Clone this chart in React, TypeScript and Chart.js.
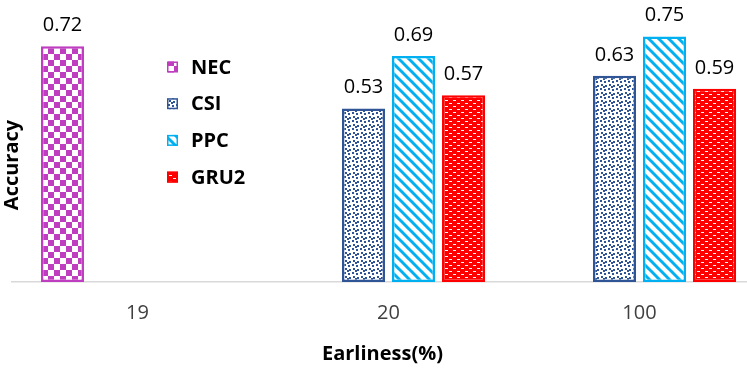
import React, { useEffect, useRef } from 'react';
import { Chart, registerables } from 'chart.js';

Chart.register(...registerables);

const categories = ['19', '20', '100'];
const seriesNames = ['NEC', 'CSI', 'PPC', 'GRU2'];
const necValues = [0.72, null, null];
const csiValues = [null, 0.53, 0.63];
const ppcValues = [null, 0.69, 0.75];
const gru2Values = [null, 0.57, 0.59];
const yMin = 0;
const yMax = 0.8;
const xTitle = 'Earliness(%)';
const yTitle = 'Accuracy';

const FONT = "'Open Sans', sans-serif";
const COLORS = ['#BF3DBF', '#2F5597', '#00B0F0', '#FF0000'];

function tile(w: number, h: number, draw: (c: CanvasRenderingContext2D) => void) {
  const cv = document.createElement('canvas');
  cv.width = w;
  cv.height = h;
  const c = cv.getContext('2d') as CanvasRenderingContext2D;
  draw(c);
  const ctx = document.createElement('canvas').getContext('2d') as CanvasRenderingContext2D;
  return ctx.createPattern(cv, 'repeat') as CanvasPattern;
}

function checker(color: string) {
  return tile(12, 12, (c) => {
    c.fillStyle = '#fff';
    c.fillRect(0, 0, 12, 12);
    c.fillStyle = color;
    c.fillRect(0, 0, 6, 6);
    c.fillRect(6, 6, 6, 6);
  });
}

function dots(color: string) {
  return tile(8, 8, (c) => {
    c.fillStyle = '#fff';
    c.fillRect(0, 0, 8, 8);
    c.fillStyle = color;
    [[0, 0], [4, 1], [1, 4], [5, 5], [3, 6]].forEach(([x, y]) => c.fillRect(x, y, 2, 2));
  });
}

function stripes(color: string) {
  return tile(10, 10, (c) => {
    c.fillStyle = '#fff';
    c.fillRect(0, 0, 10, 10);
    c.strokeStyle = color;
    c.lineWidth = 3;
    [-10, 0, 10].forEach((o) => {
      c.beginPath();
      c.moveTo(o - 1, -1);
      c.lineTo(o + 11, 11);
      c.stroke();
    });
  });
}

function dashes(color: string) {
  return tile(8, 6, (c) => {
    c.fillStyle = color;
    c.fillRect(0, 0, 8, 6);
    c.fillStyle = '#fff';
    c.fillRect(1, 1, 3, 1);
    c.fillRect(5, 4, 3, 1);
  });
}

const valueLabels = {
  id: 'valueLabels',
  afterDatasetsDraw(chart: any) {
    const ctx = chart.ctx;
    ctx.save();
    ctx.font = `20px ${FONT}`;
    ctx.fillStyle = '#000';
    ctx.textAlign = 'center';
    ctx.textBaseline = 'alphabetic';
    chart.data.datasets.forEach((ds: any, i: number) => {
      const meta = chart.getDatasetMeta(i);
      meta.data.forEach((el: any, j: number) => {
        const v = ds.data[j];
        if (v === null || v === undefined) return;
        ctx.fillText(v.toFixed(2), el.x, el.y - 15);
      });
    });
    ctx.restore();
  },
};

const customLegendAndTitle = {
  id: 'customLegendAndTitle',
  afterDraw(chart: any) {
    const ctx = chart.ctx;
    const area = chart.chartArea;
    ctx.save();
    ctx.font = `bold 20px ${FONT}`;
    ctx.fillStyle = '#000';
    ctx.textAlign = 'center';
    ctx.textBaseline = 'middle';
    // x axis title
    ctx.fillText(xTitle, (area.left + area.right) / 2 - 6, area.bottom + 72);
    // y axis title
    ctx.translate(area.left, area.top + 145);
    ctx.rotate(-Math.PI / 2);
    ctx.fillText(yTitle, 0, 0);
    ctx.restore();

    ctx.save();
    ctx.font = `bold 20px ${FONT}`;
    ctx.textAlign = 'left';
    ctx.textBaseline = 'middle';
    chart.data.datasets.forEach((ds: any, i: number) => {
      const cy = area.top + 47 + i * 36.7;
      const x = area.left + 155;
      ctx.fillStyle = ds.backgroundColor;
      ctx.fillRect(x, cy - 5.5, 11, 11);
      ctx.strokeStyle = ds.borderColor;
      ctx.lineWidth = 1.5;
      ctx.strokeRect(x + 0.75, cy - 4.75, 9.5, 9.5);
      ctx.fillStyle = '#000';
      ctx.fillText(ds.label, area.left + 179, cy + 1);
    });
    ctx.restore();
  },
};

export default function App() {
  const ref = useRef<HTMLCanvasElement>(null);

  useEffect(() => {
    if (!ref.current) return;
    const fills = [checker(COLORS[0]), dots(COLORS[1]), stripes(COLORS[2]), dashes(COLORS[3])];
    const values = [necValues, csiValues, ppcValues, gru2Values];
    const chart = new Chart(ref.current, {
      type: 'bar',
      data: {
        labels: categories,
        datasets: seriesNames.map((name, i) => ({
          label: name,
          data: values[i],
          backgroundColor: fills[i],
          borderColor: COLORS[i],
          borderWidth: 2.5,
          borderSkipped: false,
        })) as any,
      },
      options: {
        responsive: false,
        animation: false,
        events: [],
        layout: { padding: { left: 12, right: 0, top: 20, bottom: 1 } },
        datasets: { bar: { categoryPercentage: 0.797, barPercentage: 0.86 } } as any,
        plugins: {
          legend: { display: false },
          tooltip: { enabled: false },
        },
        scales: {
          x: {
            grid: { display: false, drawTicks: false },
            border: { display: true, color: '#D9D9D9', width: 1.5 },
            ticks: { font: { family: FONT, size: 20 }, color: '#404040', padding: 19 },
            afterFit: (scale: any) => {
              scale.height = 88;
            },
          },
          y: { display: false, min: yMin, max: yMax },
        },
      },
      plugins: [valueLabels, customLegendAndTitle],
    });
    return () => chart.destroy();
  }, []);

  return (
    <div
      style={{
        position: 'absolute',
        left: 0,
        top: 0,
        width: 747,
        height: 371,
        overflow: 'hidden',
        background: '#fff',
      }}
    >
      <canvas ref={ref} width={765} height={371} style={{ display: 'block' }} />
    </div>
  );
}
